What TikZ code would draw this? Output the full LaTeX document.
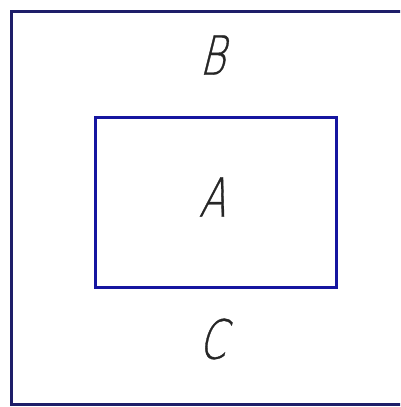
\documentclass[tikz,border=0pt]{standalone}
\usepackage{fontspec}
\newfontfamily\gostfont[FakeSlant=0.25,FakeStretch=0.72,FakeBold=0.6]{DejaVu Sans ExtraLight}
\definecolor{outerc}{RGB}{30,30,105}
\definecolor{innerc}{RGB}{22,22,160}
\tikzset{
  lbl/.style={inner sep=0pt, font=\gostfont\fontsize{54}{54}\selectfont, text=black!85},
  outerbox/.style={draw=outerc, line width=3pt},
  innerbox/.style={draw=innerc, line width=3pt}
}
\begin{document}
\begin{tikzpicture}[x=1pt,y=-1pt]
\useasboundingbox (0,0) rectangle (400,407);
\fill[white] (0,0) rectangle (400,407);
\clip (0,0) rectangle (400,407);
\coordinate (o1) at (11,11);
\coordinate (o2) at (11,404);
\coordinate (o3) at (420,11);
\coordinate (o4) at (420,404);
\draw[outerbox] (o3) -- (o1) -- (o2) -- (o4);
\coordinate (i1) at (95,117);
\coordinate (i2) at (336,287);
\draw[innerbox] (i1) rectangle (i2);
\node[lbl] (B) at (212,55) {B};
\node[lbl] (A) at (212,197) {A};
\node[lbl] (C) at (212,339) {C};
\end{tikzpicture}
\end{document}
